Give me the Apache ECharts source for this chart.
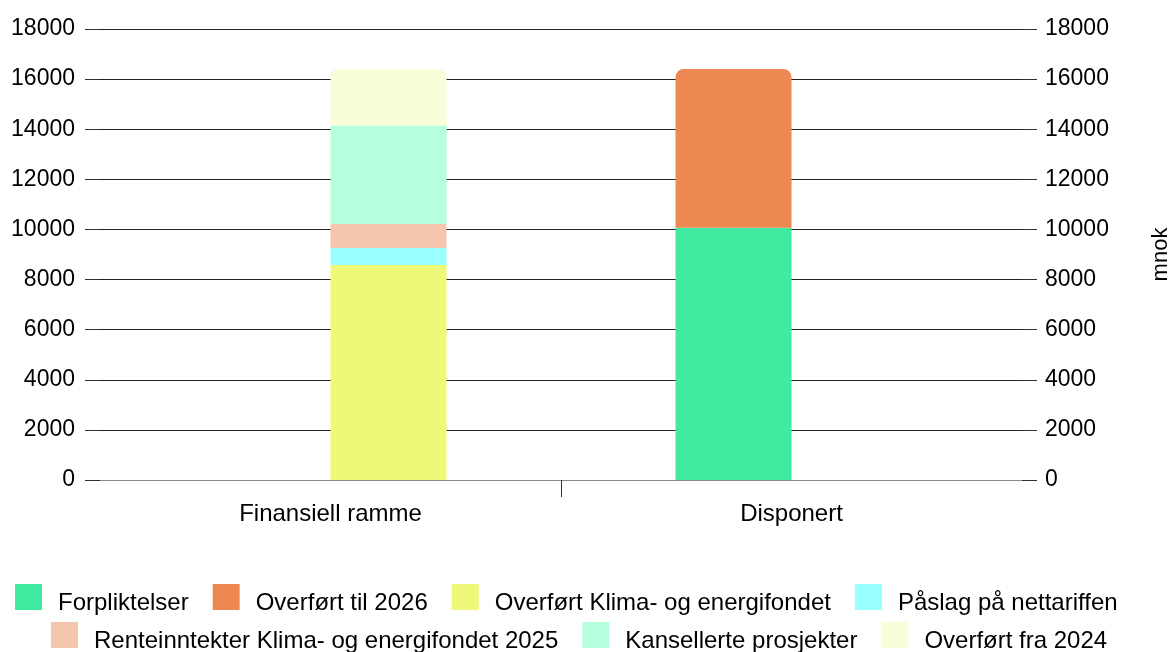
<!DOCTYPE html>
<html><head><meta charset="utf-8">
<script src="https://cdn.jsdelivr.net/npm/echarts@6/dist/echarts.min.js"></script>
<style>html,body{margin:0;padding:0;background:#fff}#c{width:1169px;height:652px}</style>
</head><body><div id="c"></div>
<script>
const categories = ['Finansiell ramme', 'Disponert'];
const yTicks = [0, 18000, 2000];
const seriesNames = ['Forpliktelser', 'Overført til 2026', 'Overført Klima- og energifondet', 'Påslag på nettariffen', 'Renteinntekter Klima- og energifondet 2025', 'Kansellerte prosjekter', 'Overført fra 2024'];
const forpliktelser = [null, 10070];
const overfortTil2026 = [null, 6330];
const overfortKlima = [8580, null];
const paslag = [680, null];
const renteinntekter = [960, null];
const kansellerte = [3930, null];
const overfortFra2024 = [2250, null];
const colors = ['#40EAA1', '#EE8852', '#EEF977', '#99FFFF', '#F5C6AE', '#B5FFDD', '#FAFDD9'];
const stacks = ['disp', 'disp', 'ramme', 'ramme', 'ramme', 'ramme', 'ramme'];
const values = [forpliktelser, overfortTil2026, overfortKlima, paslag, renteinntekter, kansellerte, overfortFra2024];
const tops = [1, 6];

const FONT = 'Liberation Sans, Arial, sans-serif';
const FS = 24;
const FSY = 23;
const chart = echarts.init(document.getElementById('c'));
const series = seriesNames.map((n, i) => ({
  name: n, type: 'bar', stack: stacks[i], data: values[i],
  barWidth: 116, barGap: '0%',
  itemStyle: { color: colors[i], borderRadius: tops.includes(i) ? [8, 8, 0, 0] : 0 },
  emphasis: { disabled: true }
}));
const yAxisBase = {
  type: 'value', min: yTicks[0], max: yTicks[1], interval: yTicks[2],
  axisLine: { show: false },
  axisTick: { show: true, length: 15, lineStyle: { color: '#333' } },
  splitLine: { show: true, lineStyle: { color: '#222', width: 1 } },
  axisLabel: { color: '#000', fontFamily: FONT, fontSize: FSY, margin: 25, formatter: v => String(v) }
};
const legendBase = {
  orient: 'horizontal', top: 579, padding: 0, itemWidth: 27, itemHeight: 26, itemGap: 24,
  icon: 'rect',
  formatter: '\n{name}',
  textStyle: { color: '#000', fontFamily: FONT, fontSize: FS, lineHeight: 12, padding: [0, 0, 0, 11] }
};
chart.setOption({
  animation: false,
  color: colors,
  grid: { left: 100, right: 147, top: 29, bottom: 172, containLabel: false, outerBoundsMode: 'none' },
  xAxis: [{
    type: 'category', data: categories,
    axisLine: { show: true, lineStyle: { color: '#888' } },
    axisTick: { show: false },
    axisLabel: { color: '#000', fontFamily: FONT, fontSize: FS, margin: 22 }
  }, {
    type: 'value', min: 0, max: 2, position: 'bottom',
    axisLine: { show: false }, splitLine: { show: false },
    axisLabel: { show: false },
    axisTick: { show: true, length: 17, customValues: [1], lineStyle: { color: '#333' } }
  }],
  yAxis: [
    Object.assign({}, yAxisBase, { position: 'left' }),
    Object.assign({}, yAxisBase, { position: 'right', splitLine: { show: false },
      axisLabel: Object.assign({}, yAxisBase.axisLabel, { margin: 23 }),
      name: 'mnok', nameLocation: 'middle', nameRotate: 90, nameGap: 128,
      nameTextStyle: { color: '#000', fontFamily: FONT, fontSize: FS - 2 } })
  ],
  legend: [
    Object.assign({}, legendBase, { left: 15, data: seriesNames.slice(0, 4) }),
    Object.assign({}, legendBase, { left: 51, top: 617, data: seriesNames.slice(4) })
  ],
  series: series
});
</script></body></html>
